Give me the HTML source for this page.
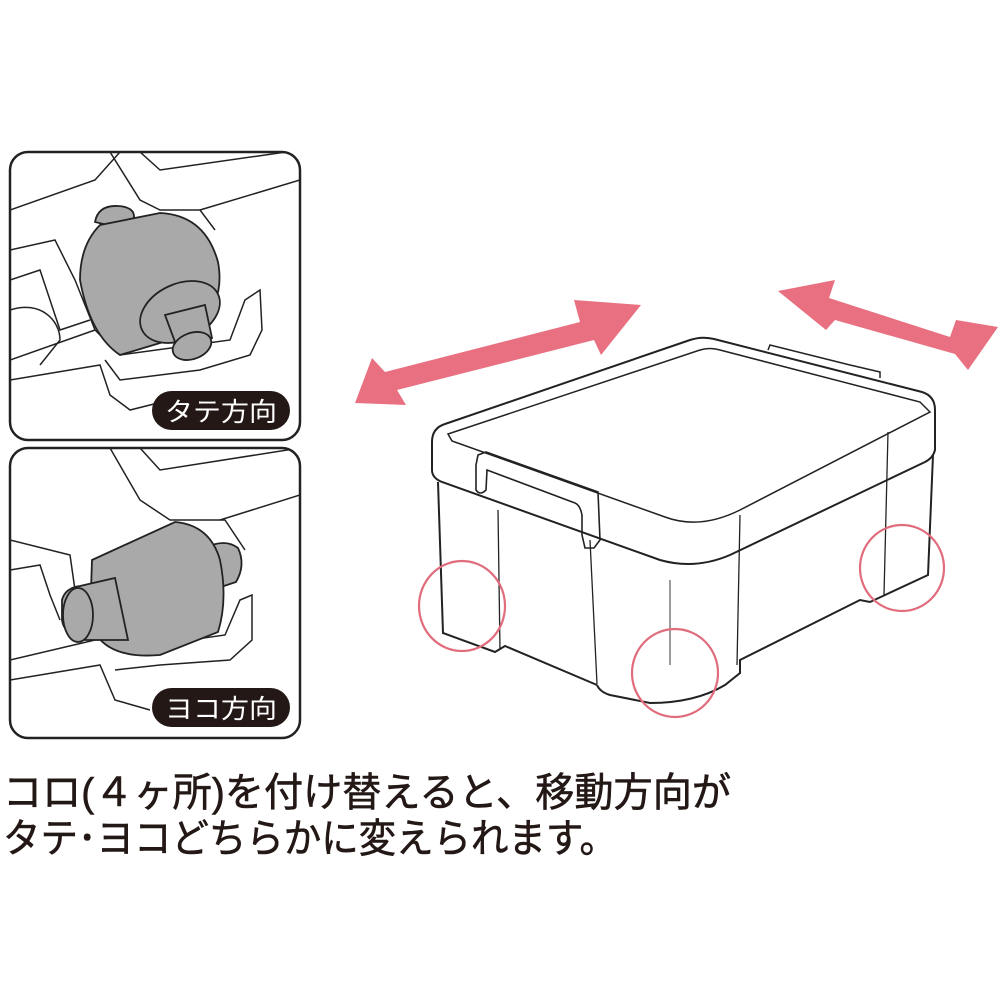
<!DOCTYPE html>
<html><head><meta charset="utf-8"><style>
html,body{margin:0;padding:0;background:#fff;}
svg{display:block;}
text{font-family:"Liberation Sans","Noto Sans CJK JP",sans-serif;}
</style></head><body>
<svg width="1000" height="1000" viewBox="0 0 1000 1000" xmlns="http://www.w3.org/2000/svg">
<defs>
<clipPath id="c1"><rect x="10" y="152" width="290" height="288" rx="18"/></clipPath>
<clipPath id="c2"><rect x="10" y="448" width="290" height="290" rx="18"/></clipPath>
</defs>
<!-- Panel 1 -->
<g clip-path="url(#c1)" fill="none" stroke="#222" stroke-width="1.5">
<path d="M10,210 L95,180 L120,152"/>
<path d="M110,152 L140,200 L160,210 L200,210 L215,230"/>
<path d="M140,152 L160,170 L300,150"/>
<path d="M200,210 L300,180"/>
<path d="M10,250 L55,240 L75,280 L95,330 L120,355 L230,340 L245,300 L260,290 L262,330 L250,355 L200,370 L120,380 L105,360"/>
<path d="M10,280 L40,270 L50,300 L60,330 L90,320"/>
<path d="M10,360 L95,330"/>
<path d="M10,380 L100,365 L110,395 L130,410 L190,395"/>
<path d="M10,310 C40,300 60,320 60,340 L40,365"/>
</g>
<g stroke="#222" stroke-width="1.8" fill="#a9a9a9">
<path d="M95,222 Q98,205 118,206 Q135,207 134,218 L120,228 Z"/>
<path d="M100,225 L160,213 Q205,215 218,262 Q225,300 200,322 L170,340 L120,355 Q90,335 80,280 Q80,245 100,225 Z"/>
<ellipse cx="180" cy="312" rx="42" ry="28" transform="rotate(-25 180 312)"/>
<path d="M165,315 L205,305 L212,338 L178,350 Z"/>
<ellipse cx="192" cy="346" rx="20" ry="13" transform="rotate(-20 192 346)"/>
</g>
<rect x="10" y="152" width="290" height="288" rx="18" fill="none" stroke="#222" stroke-width="2.5"/>
<rect x="152" y="391" width="138" height="39" rx="19.5" fill="#231815"/>
<text x="221" y="421" font-size="26" fill="#fff" text-anchor="middle" textLength="112" lengthAdjust="spacingAndGlyphs">タテ方向</text>

<!-- Panel 2 -->
<g clip-path="url(#c2)" fill="none" stroke="#222" stroke-width="1.5">
<path d="M110,448 L140,500 L170,520 L225,520 L245,550"/>
<path d="M140,448 L160,470 L300,448"/>
<path d="M220,520 L300,495"/>
<path d="M10,540 L70,555 L75,590 L90,625 L120,650 L225,635 L240,600 L252,595 L252,640 L230,660 L160,665 L115,670"/>
<path d="M10,570 L40,565 L50,595 L60,620"/>
<path d="M10,660 L95,640"/>
<path d="M10,680 L100,665 L115,700 L150,710"/>
</g>
<g stroke="#222" stroke-width="1.8" fill="#a9a9a9">
<path d="M205,548 Q225,538 238,548 Q246,565 236,582 L212,590 Z"/>
<path d="M92,560 L175,522 Q210,525 220,560 Q228,600 218,632 L160,655 Q100,660 90,620 Z"/>
<path d="M62,600 Q65,588 80,586 L115,578 L128,640 L85,640 Q64,635 62,620 Z"/>
<ellipse cx="78" cy="615" rx="15" ry="27"/>
</g>
<rect x="10" y="448" width="290" height="290" rx="18" fill="none" stroke="#222" stroke-width="2.5"/>
<rect x="152" y="688" width="138" height="39" rx="19.5" fill="#231815"/>
<text x="221" y="718" font-size="26" fill="#fff" text-anchor="middle" textLength="112" lengthAdjust="spacingAndGlyphs">ヨコ方向</text>

<!-- Arrows -->
<g fill="#e87080">
<polygon points="355,403 372,358 385,372 580,322 574,300 641,305 601,355 594,340 397,390 406,405"/>
<polygon points="778,291 835,280 829,298 950,337 956,320 998,327 968,370 955,354 835,320 826,330"/>
</g>

<!-- Box -->
<g fill="none" stroke="#222" stroke-width="2">
<path d="M432,442 Q432,428 445,424 L690,340 Q702,336 714,339 L922,392 Q935,396 935,410 L935,450 Q933,458 925,462 L730,555 Q695,570 660,560 L442,482 Q432,478 432,470 Z"/>
<path d="M448,434 L700,350 Q710,347 720,350 L920,402 L930,412 L740,510 Q700,530 665,517 L452,441 Z" stroke-width="1.5"/>
<path d="M768,350 L770,345 L850,365 L880,372 L880,378" stroke-width="1.5"/>
<path d="M438,482 L443,633 L495,652 L505,646 L597,685"/>
<path d="M597,685 Q600,692 610,695 L650,703 Q695,703 725,685 L740,673 L740,660 L860,600 L870,602 L928,575 L933,455"/>
<path d="M498,510 L500,650 M590,540 L597,684 M740,515 L737,665 M888,432 L884,595" stroke-width="1.3"/>
<path d="M670,580 L670,665" stroke-width="0.9"/>
<path d="M476,465 L478,455 L486,452 L598,492 L600,540 L594,548 L585,548 L582,535 L582,515 Q580,505 575,503 L487,470 L486,490 Q480,496 476,490 Z" stroke-width="1.6"/>
</g>
<g fill="none" stroke="#e06c7c" stroke-width="2.2">
<ellipse cx="462" cy="606" rx="43" ry="45"/>
<ellipse cx="675" cy="673" rx="43" ry="44"/>
<ellipse cx="902" cy="568" rx="42" ry="43"/>
</g>

<!-- Caption -->
<text x="3" y="806" font-size="40" fill="#231815" stroke="#231815" stroke-width="0.6" textLength="728" lengthAdjust="spacingAndGlyphs">コロ(４ヶ所)を付け替えると、移動方向が</text>
<text x="3" y="852" font-size="40" fill="#231815" stroke="#231815" stroke-width="0.6" textLength="614" lengthAdjust="spacingAndGlyphs">タテ･ヨコどちらかに変えられます。</text>
</svg>
</body></html>
